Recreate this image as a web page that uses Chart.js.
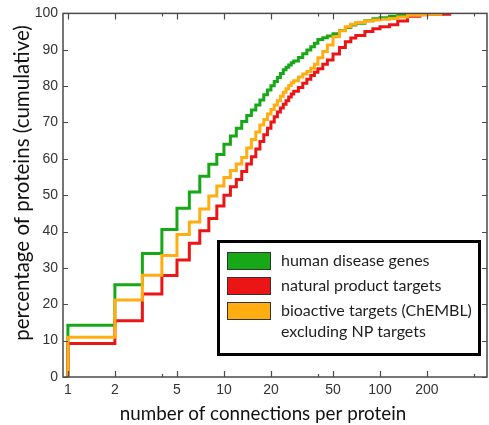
<!DOCTYPE html>
<html>
<head>
<meta charset="utf-8">
<script src="https://cdn.jsdelivr.net/npm/chart.js@4.4.1/dist/chart.umd.min.js"></script>
<style>
    html, body { margin: 0; padding: 0; background: #fff; }
    canvas { display: block; }
</style>
</head>
<body>
<canvas id="grafica" width="489" height="425"></canvas>
<script>
// Number of connections per protein (x values, shared by the three curves)
const conexiones = [1, 2, 3, 4, 5, 6, 7, 8, 9, 10, 11, 12, 13, 14, 15, 16, 17, 18, 19, 20,
    21, 22, 23, 24, 25, 26, 27, 28, 30, 32, 34, 36, 38, 40, 43, 46, 50, 55, 60, 65, 70,
    80, 90, 100, 115, 130, 150, 180, 200];

// Cumulative percentage of proteins
const enfermedad = [14.2, 25.4, 34.0, 40.6, 46.4, 50.9, 55.2, 58.5, 61.2, 64.0, 66.3, 68.4, 70.3, 71.9, 73.4, 74.8, 76.2, 77.6, 78.9, 80.1,
    81.3, 82.4, 83.5, 84.5, 85.2, 85.8, 86.4, 86.9, 87.9, 88.9, 89.9, 90.8, 91.8, 92.8, 93.3, 93.8, 94.4, 95.3, 96.1, 96.8, 97.3,
    98.0, 98.5, 98.8, 99.2, 99.5, 99.7, 99.8, 99.9];
const productoNatural = [9.2, 15.5, 22.8, 27.9, 32.2, 36.8, 40.2, 43.6, 47.0, 50.0, 52.3, 54.3, 56.5, 58.6, 60.6, 62.7, 64.8, 66.6, 68.4, 70.1,
    71.6, 72.9, 74.0, 75.0, 76.0, 77.0, 77.8, 78.6, 79.6, 80.8, 81.9, 82.9, 83.8, 84.8, 86.0, 87.2, 88.8, 90.6, 92.2, 93.2, 93.9,
    95.0, 95.8, 96.3, 96.9, 97.9, 99.2, 99.6, 99.8];
const bioactivos = [10.9, 21.2, 28.0, 33.4, 39.2, 42.6, 46.2, 49.8, 52.5, 54.9, 56.8, 58.6, 60.4, 63.0, 65.3, 67.4, 69.3, 70.8, 72.3, 73.6,
    74.8, 76.0, 77.2, 78.3, 79.3, 80.2, 80.9, 81.5, 82.5, 83.3, 84.0, 84.9, 86.0, 87.8, 89.5, 91.3, 93.6, 95.2, 96.3, 97.0, 97.5,
    97.9, 98.2, 98.4, 98.6, 99.0, 99.5, 99.7, 99.8];

// Last point of each curve (largest number of connections, 100 %)
const finEnfermedad = 255;
const finProducto = 280;
const finBioactivos = 245;

const etiquetas = ['human disease genes', 'natural product targets', ['bioactive targets (ChEMBL)', 'excluding NP targets']];
const colores = ['#16a816', '#ec1515', '#ffad10'];

const marcasX = [1, 2, 4, 5, 10, 20, 40, 50, 100, 200, 400];
const etiquetasX = [1, 2, 5, 10, 20, 50, 100, 200];

// Build a cumulative step curve starting at (1, 0)
function curva(valores, fin) {
    const puntos = [{ x: 1, y: 0 }];
    conexiones.forEach((c, i) => puntos.push({ x: c, y: valores[i] }));
    puntos.push({ x: fin, y: 100 });
    return puntos;
}

// Frame, inward ticks, axis titles and the boxed legend
const marco = {
    id: 'marco',
    afterDraw(chart) {
        const { ctx, chartArea: a, scales: { x, y } } = chart;
        ctx.save();
        ctx.strokeStyle = '#4a4a4a';
        ctx.lineWidth = 1.5;
        ctx.strokeRect(a.left, a.top, a.right - a.left, a.bottom - a.top);

        ctx.lineWidth = 1.2;
        ctx.beginPath();
        marcasX.forEach(v => {
            const px = Math.round(x.getPixelForValue(v)) + 0.5;
            const largo = etiquetasX.includes(v) ? 6 : 3;
            ctx.moveTo(px, a.bottom); ctx.lineTo(px, a.bottom - largo);
            ctx.moveTo(px, a.top); ctx.lineTo(px, a.top + largo);
        });
        y.ticks.forEach(t => {
            const py = Math.round(y.getPixelForValue(t.value)) + 0.5;
            ctx.moveTo(a.left, py); ctx.lineTo(a.left + 5, py);
            ctx.moveTo(a.right, py); ctx.lineTo(a.right - 5, py);
        });
        ctx.stroke();

        // axis titles
        ctx.fillStyle = '#111';
        ctx.textAlign = 'center';
        ctx.textBaseline = 'middle';
        ctx.font = '18.8px Lato, "Open Sans", sans-serif';
        ctx.fillText('number of connections per protein', 263, 414);
        ctx.save();
        ctx.translate(22, 183);
        ctx.rotate(-Math.PI / 2);
        ctx.font = '20.5px Lato, "Open Sans", sans-serif';
        ctx.fillText('percentage of proteins (cumulative)', 0, 0);
        ctx.restore();

        // legend
        ctx.fillStyle = '#fff';
        ctx.fillRect(218, 241, 262, 114);
        ctx.strokeStyle = '#000';
        ctx.lineWidth = 3;
        ctx.strokeRect(218.5, 241.5, 261, 113);
        ctx.font = '16px Lato, "Open Sans", sans-serif';
        ctx.textAlign = 'left';
        chart.data.datasets.forEach((ds, i) => {
            const top = 252 + i * 25;
            ctx.fillStyle = ds.borderColor;
            ctx.fillRect(227, top, 44, 18);
            ctx.strokeStyle = '#333';
            ctx.lineWidth = 1;
            ctx.strokeRect(227.5, top + 0.5, 43, 17);
            ctx.fillStyle = '#1e1e1e';
            const lineas = Array.isArray(ds.label) ? ds.label : [ds.label];
            lineas.forEach((t, j) => ctx.fillText(t, 281, top + 9 + j * 21));
        });
        ctx.restore();
    }
};

const ctx = document.getElementById('grafica').getContext('2d');
const grafica = new Chart(ctx, {
    type: 'line',
    data: {
        datasets: [
            { label: etiquetas[0], data: curva(enfermedad, finEnfermedad), borderColor: colores[0], order: 2 },
            { label: etiquetas[1], data: curva(productoNatural, finProducto), borderColor: colores[1], order: 1 },
            { label: etiquetas[2], data: curva(bioactivos, finBioactivos), borderColor: colores[2], order: 0 }
        ]
    },
    options: {
        responsive: false,
        animation: false,
        layout: { padding: { top: 5, right: 2, left: 0, bottom: 0 } },
        elements: {
            point: { radius: 0 },
            line: { borderWidth: 3, stepped: true, fill: false }
        },
        plugins: {
            legend: { display: false },
            tooltip: { enabled: false }
        },
        scales: {
            x: {
                type: 'logarithmic',
                min: 0.93,
                max: 485,
                bounds: 'data',
                grid: { display: false, drawTicks: false },
                border: { display: false },
                afterBuildTicks: s => { s.ticks = marcasX.map(v => ({ value: v })); },
                afterFit: s => { s.height = 48; },
                ticks: {
                    autoSkip: false,
                    maxRotation: 0,
                    padding: 5,
                    color: '#333',
                    font: { family: '"Liberation Sans", Arial', size: 14 },
                    callback: v => etiquetasX.includes(v) ? String(v) : ''
                }
            },
            y: {
                min: 0,
                max: 100,
                grid: { display: false, drawTicks: false },
                border: { display: false },
                afterFit: s => { s.width = 63; },
                ticks: {
                    stepSize: 10,
                    padding: 5,
                    color: '#333',
                    font: { family: '"Liberation Sans", Arial', size: 14 }
                }
            }
        }
    },
    plugins: [marco]
});
</script>
</body>
</html>
